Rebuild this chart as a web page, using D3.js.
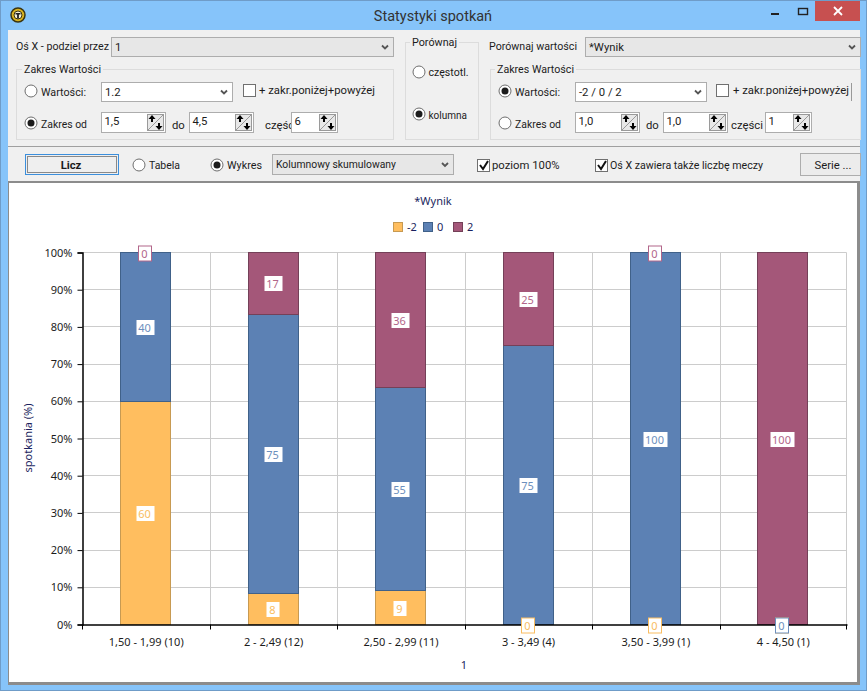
<!DOCTYPE html>
<html>
<head>
<meta charset="utf-8">
<script src="https://cdn.jsdelivr.net/npm/d3@7"></script>
<style>
  html, body { margin: 0; padding: 0; background: #fff; }
  svg { display: block; }
  text { font-family: Roboto, sans-serif; font-size: 11.3px; fill: #1c1c1c; }
  text.chart { font-family: "Noto Sans", sans-serif; font-size: 11px; }
</style>
</head>
<body>
<svg id="canvas" width="867" height="691"></svg>
<script>
// data: match counts behind each percentage
const categories = ["1,50 - 1,99 (10)", "2 - 2,49 (12)", "2,50 - 2,99 (11)", "3 - 3,49 (4)", "3,50 - 3,99 (1)", "4 - 4,50 (1)"];
const seriesNames = ["-2", "0", "2"];
const minusTwo = [6, 1, 1, 0, 0, 0];
const zero = [4, 9, 6, 3, 1, 0];
const two = [0, 2, 4, 1, 0, 1];
const percentTicks = [0, 10, 20, 30, 40, 50, 60, 70, 80, 90, 100];

const fills = ["#ffbe5f", "#5c81b4", "#a45779"];
const strokes = ["#c79a52", "#406189", "#744058"];
const labelColors = ["#f9bd62", "#6d8fbd", "#b2668a"];

const svg = d3.select("#canvas");
const px = v => Math.round(v - 0.5) + 0.5;

// ---------- window chrome ----------
svg.append("rect").attr("width", 867).attr("height", 691).attr("fill", "#86c4fa");
svg.append("rect").attr("x", 0.5).attr("y", 0.5).attr("width", 866).attr("height", 690)
  .attr("fill", "none").attr("stroke", "#6f9cc8");
svg.append("rect").attr("x", 8).attr("y", 30).attr("width", 852).attr("height", 655).attr("fill", "#f0f0f0");

svg.append("text").attr("x", 433).attr("y", 21).attr("text-anchor", "middle")
  .style("font-size", "14.5px").style("fill", "#333").text("Statystyki spotkań");

svg.append("circle").attr("cx", 18).attr("cy", 15).attr("r", 7).attr("fill", "#d9b21f").attr("stroke", "#3a3410").attr("stroke-width", 1.5);
svg.append("circle").attr("cx", 18).attr("cy", 15).attr("r", 4).attr("fill", "#f5f0d8").attr("stroke", "#3a3410");
svg.append("path").attr("d", "M15.5 13h5v1.5h-1.6v4h-1.8v-4h-1.6z").attr("fill", "#222");

svg.append("rect").attr("x", 815).attr("y", 1).attr("width", 45).attr("height", 20).attr("fill", "#c75050");
svg.append("path").attr("d", "M834 7l8 8M842 7l-8 8").attr("stroke", "#fff").attr("stroke-width", 1.8);
svg.append("rect").attr("x", 771).attr("y", 13).attr("width", 8).attr("height", 2).attr("fill", "#222");
svg.append("rect").attr("x", 798.5).attr("y", 8.5).attr("width", 9).attr("height", 6).attr("fill", "none").attr("stroke", "#222").attr("stroke-width", 1.4);

// ---------- form helpers ----------
// len squeezes the text to the width it has in the reference
function label(x, y, t, len) {
  const el = svg.append("text").attr("x", x).attr("y", y).text(t);
  if (len) el.attr("textLength", len).attr("lengthAdjust", "spacingAndGlyphs");
  return el;
}

function radio(x, y, on) {
  svg.append("circle").attr("cx", x).attr("cy", y).attr("r", 6).attr("fill", "#fff").attr("stroke", "#6e6e6e");
  if (on) svg.append("circle").attr("cx", x).attr("cy", y).attr("r", 3.5).attr("fill", "#1c1c1c");
}

function check(x, y, on) {
  svg.append("rect").attr("x", x + 0.5).attr("y", y + 0.5).attr("width", 12).attr("height", 12)
    .attr("fill", "#fff").attr("stroke", "#707070");
  if (on) svg.append("path").attr("d", `M${x + 3} ${y + 6}l3 4l5 -8`).attr("fill", "none").attr("stroke", "#111").attr("stroke-width", 2);
}

function combo(x0, x1, y0, y1, t, white, len) {
  svg.append("rect").attr("x", x0 + 0.5).attr("y", y0 + 0.5).attr("width", x1 - x0).attr("height", y1 - y0)
    .attr("fill", white ? "#fff" : "#e7e7e7").attr("stroke", "#adadad");
  label(x0 + 4, y0 + 14, t, len);
  const ax = x1 - 8, ay = (y0 + y1) / 2 - 1;
  svg.append("path").attr("d", `M${ax - 3} ${ay}l3 3l3 -3`).attr("fill", "none").attr("stroke", "#555").attr("stroke-width", 1.8);
}

function spinner(x0, x1, t) {
  const y0 = t.y, bx = x1 - 18;
  svg.append("rect").attr("x", x0 + 0.5).attr("y", y0 + 0.5).attr("width", x1 - x0).attr("height", 20)
    .attr("fill", "#fff").attr("stroke", "#adadad");
  label(x0 + 3.5, y0 + 13, t.text);
  svg.append("rect").attr("x", bx + 0.5).attr("y", y0 + 2.5).attr("width", 16).attr("height", 16)
    .attr("fill", "#e8e8e8").attr("stroke", "#9a9a9a");
  svg.append("path").attr("d", `M${bx + 16} ${y0 + 3}L${bx + 1} ${y0 + 18}`).attr("stroke", "#9a9a9a");
  svg.append("path").attr("d", `M${bx + 5} ${y0 + 3}l-3.5 4h2.5v3h2v-3h2.5z`).attr("fill", "#000");
  svg.append("path").attr("d", `M${bx + 12} ${y0 + 18}l-3.5 -4h2.5v-3h2v3h2.5z`).attr("fill", "#000");
}

function group(x0, x1, y0, y1, t, lx, len) {
  svg.append("rect").attr("x", x0 + 0.5).attr("y", y0 + 0.5).attr("width", x1 - x0).attr("height", y1 - y0)
    .attr("fill", "none").attr("stroke", "#dcdcdc");
  const txt = label(lx, y0 + 4, t, len);
  const w = len || txt.node().getComputedTextLength();
  svg.insert("rect", "text:last-of-type").attr("x", lx - 2).attr("y", y0 - 3).attr("width", w + 4).attr("height", 7).attr("fill", "#f0f0f0");
}

// ---------- top form ----------
label(16, 50, "Oś X - podziel przez", 93);
combo(111, 393, 37, 56, "1");
group(16, 393, 69, 139, "Zakres Wartości", 24, 77);
radio(31, 91, false);
label(41, 96, "Wartości:", 45);
combo(101, 232, 82, 101, "1.2", true);
check(243, 84, false);
label(259, 94, "+ zakr.poniżej+powyżej");
radio(31, 123, true);
label(41, 128, "Zakres od", 46);
spinner(101, 165, { y: 112, text: "1,5" });
label(172, 129, "do");
spinner(189, 253, { y: 112, text: "4,5" });
label(265, 129, "częśc");
spinner(291, 337, { y: 112, text: "6" });

group(405, 478, 42, 139, "Porównaj", 412, 45);
radio(419, 72, false);
label(428.5, 76, "częstotl.", 40);
radio(419, 114, true);
label(428.5, 119, "kolumna", 38.5);

label(489, 50, "Porównaj wartości", 88);
combo(585, 860, 37, 56, "*Wynik");
group(490, 860, 69, 139, "Zakres Wartości", 497, 77);
radio(505, 91, true);
label(515, 96, "Wartości:", 45);
combo(575, 706, 82, 101, "-2 / 0 / 2", true);
check(716, 84, false);
label(733, 94, "+ zakr.poniżej+powyżej");
svg.append("rect").attr("x", 851).attr("y", 83).attr("width", 1).attr("height", 18).attr("fill", "#999");
radio(505, 123, false);
label(515, 128, "Zakres od", 46);
spinner(575, 639, { y: 112, text: "1,0" });
label(646, 129, "do");
spinner(663, 727, { y: 112, text: "1,0" });
label(731, 129, "części");
spinner(765, 811, { y: 112, text: "1" });

svg.append("rect").attr("x", 8).attr("y", 146).attr("width", 852).attr("height", 1).attr("fill", "#a0a0a0");

// ---------- button row ----------
svg.append("rect").attr("x", 25.5).attr("y", 154.5).attr("width", 93).attr("height", 20)
  .attr("fill", "#efefef").attr("stroke", "#3c8fdc");
svg.append("rect").attr("x", 27.5).attr("y", 156.5).attr("width", 89).attr("height", 16)
  .attr("fill", "none").attr("stroke", "#222").attr("stroke-dasharray", "1,1");
svg.append("text").attr("x", 71).attr("y", 169).attr("text-anchor", "middle").style("font-weight", "bold").text("Licz");
radio(139, 165, false);
label(149, 169, "Tabela", 31);
radio(217, 165, true);
label(227, 169, "Wykres", 35);
combo(272, 453, 154, 174, "Kolumnowy skumulowany", false, 120);
check(477, 159, true);
label(492, 169, "poziom 100%");
check(595, 159, true);
label(610, 169, "Oś X zawiera także liczbę meczy", 153);
svg.append("rect").attr("x", 800.5).attr("y", 153.5).attr("width", 60).attr("height", 22).attr("fill", "#ececec").attr("stroke", "#adadad");
svg.append("text").attr("x", 833).attr("y", 169).attr("text-anchor", "middle").text("Serie ...");

// ---------- chart panel ----------
svg.append("rect").attr("x", 8).attr("y", 181).attr("width", 852).attr("height", 504).attr("fill", "#8c8c8c");
svg.append("rect").attr("x", 9).attr("y", 183).attr("width", 848).attr("height", 499).attr("fill", "#fff");

const x = d3.scaleBand().domain(categories).range([82.5, 847]);
const y = d3.scaleLinear().domain([0, 100]).range([624.5, 252.5]);
const barWidth = Math.round(x.bandwidth() * 0.395);
const barLeft = c => px(x(c) + (x.bandwidth() - barWidth) / 2 - 0.3);
const gridX = c => Math.min(Math.round(x(c) + x.bandwidth()) + 0.5, 846.5);

const table = categories.map((c, i) => ({ category: c, "-2": minusTwo[i], "0": zero[i], "2": two[i] }));
const stacked = d3.stack().keys(seriesNames).offset(d3.stackOffsetExpand)(table);

// grid
const chart = svg.append("g");
chart.selectAll("line.h").data(percentTicks.slice(1)).enter().append("line")
  .attr("x1", 82.5).attr("x2", 846.5).attr("y1", d => px(y(d))).attr("y2", d => px(y(d)))
  .attr("stroke", "#cccccc");
chart.selectAll("line.v").data(categories).enter().append("line")
  .attr("x1", d => gridX(d)).attr("x2", d => gridX(d))
  .attr("y1", 252.5).attr("y2", 624.5)
  .attr("stroke", "#cccccc");

// bars
stacked.forEach((layer, s) => {
  chart.append("g").selectAll("rect").data(layer).enter().append("rect")
    .attr("x", d => barLeft(d.data.category))
    .attr("width", barWidth)
    .attr("y", d => px(y(d[1] * 100)))
    .attr("height", d => px(y(d[0] * 100)) - px(y(d[1] * 100)))
    .attr("fill", fills[s])
    .attr("stroke", strokes[s])
    .attr("display", d => d[1] > d[0] ? null : "none");
});

// axes
const yAxis = d3.axisLeft(y).tickValues(percentTicks).tickSize(5).tickPadding(5).tickFormat(d => d + "%");
const xAxis = d3.axisBottom(x).tickSize(0).tickPadding(14);
const gy = chart.append("g").attr("transform", "translate(82.5,0)").call(yAxis);
const gx = chart.append("g").attr("transform", "translate(0,624.5)").call(xAxis);
[gy, gx].forEach(g => {
  g.selectAll("text").attr("class", "chart").style("font-family", null).style("fill", "#1c1c1c");
  g.attr("font-family", null).attr("font-size", null);
  g.selectAll("line,path").attr("stroke", "#000");
  g.select(".domain").attr("stroke-width", 1.5);
});
chart.selectAll("line.xt").data(categories).enter().append("line")
  .attr("x1", d => gridX(d)).attr("x2", d => gridX(d))
  .attr("y1", 624.5).attr("y2", 629.5).attr("stroke", "#000");
chart.append("line").attr("x1", 82.5).attr("x2", 82.5)
  .attr("y1", 624.5).attr("y2", 629.5).attr("stroke", "#000");

// data labels, zero values get a box with the series colour
stacked.forEach((layer, s) => {
  layer.forEach(d => {
    const pct = (d[1] - d[0]) * 100;
    const cx = barLeft(d.data.category) + barWidth / 2;
    const cy = Math.round(y((d[0] + d[1]) / 2 * 100)) + 0.5;
    const t = String(Math.round(pct));
    const w = pct === 0 ? 13 : (t.length === 3 ? 24 : t.length === 2 ? 18 : 13);
    const g = chart.append("g");
    g.append("rect").attr("x", Math.round(cx - w / 2) - 0.5).attr("y", cy - 7.5).attr("width", w).attr("height", 15)
      .attr("fill", "#fff").attr("stroke", pct === 0 ? labelColors[s] : "none");
    g.append("text").attr("class", "chart").attr("x", cx - 1).attr("y", cy + 4).attr("text-anchor", "middle")
      .style("fill", labelColors[s]).text(t);
  });
});

// titles and legend
const navy = "#1b1f5e";
svg.append("text").attr("class", "chart").attr("x", 433).attr("y", 205).attr("text-anchor", "middle").style("fill", navy).text("*Wynik");
svg.append("text").attr("class", "chart").attr("transform", "translate(32,438) rotate(-90)").attr("text-anchor", "middle").style("fill", navy).text("spotkania (%)");
svg.append("text").attr("class", "chart").attr("x", 464).attr("y", 669).attr("text-anchor", "middle").style("fill", navy).text("1");

const legendX = d3.scalePoint().domain(seriesNames).range([393, 453]);
seriesNames.forEach((n, i) => {
  svg.append("rect").attr("x", legendX(n) + 0.5).attr("y", 222.5).attr("width", 9).attr("height", 9)
    .attr("fill", fills[i]).attr("stroke", strokes[i]);
  svg.append("text").attr("class", "chart").attr("x", legendX(n) + 14).attr("y", 231).style("fill", navy).text(n);
});
</script>
</body>
</html>
